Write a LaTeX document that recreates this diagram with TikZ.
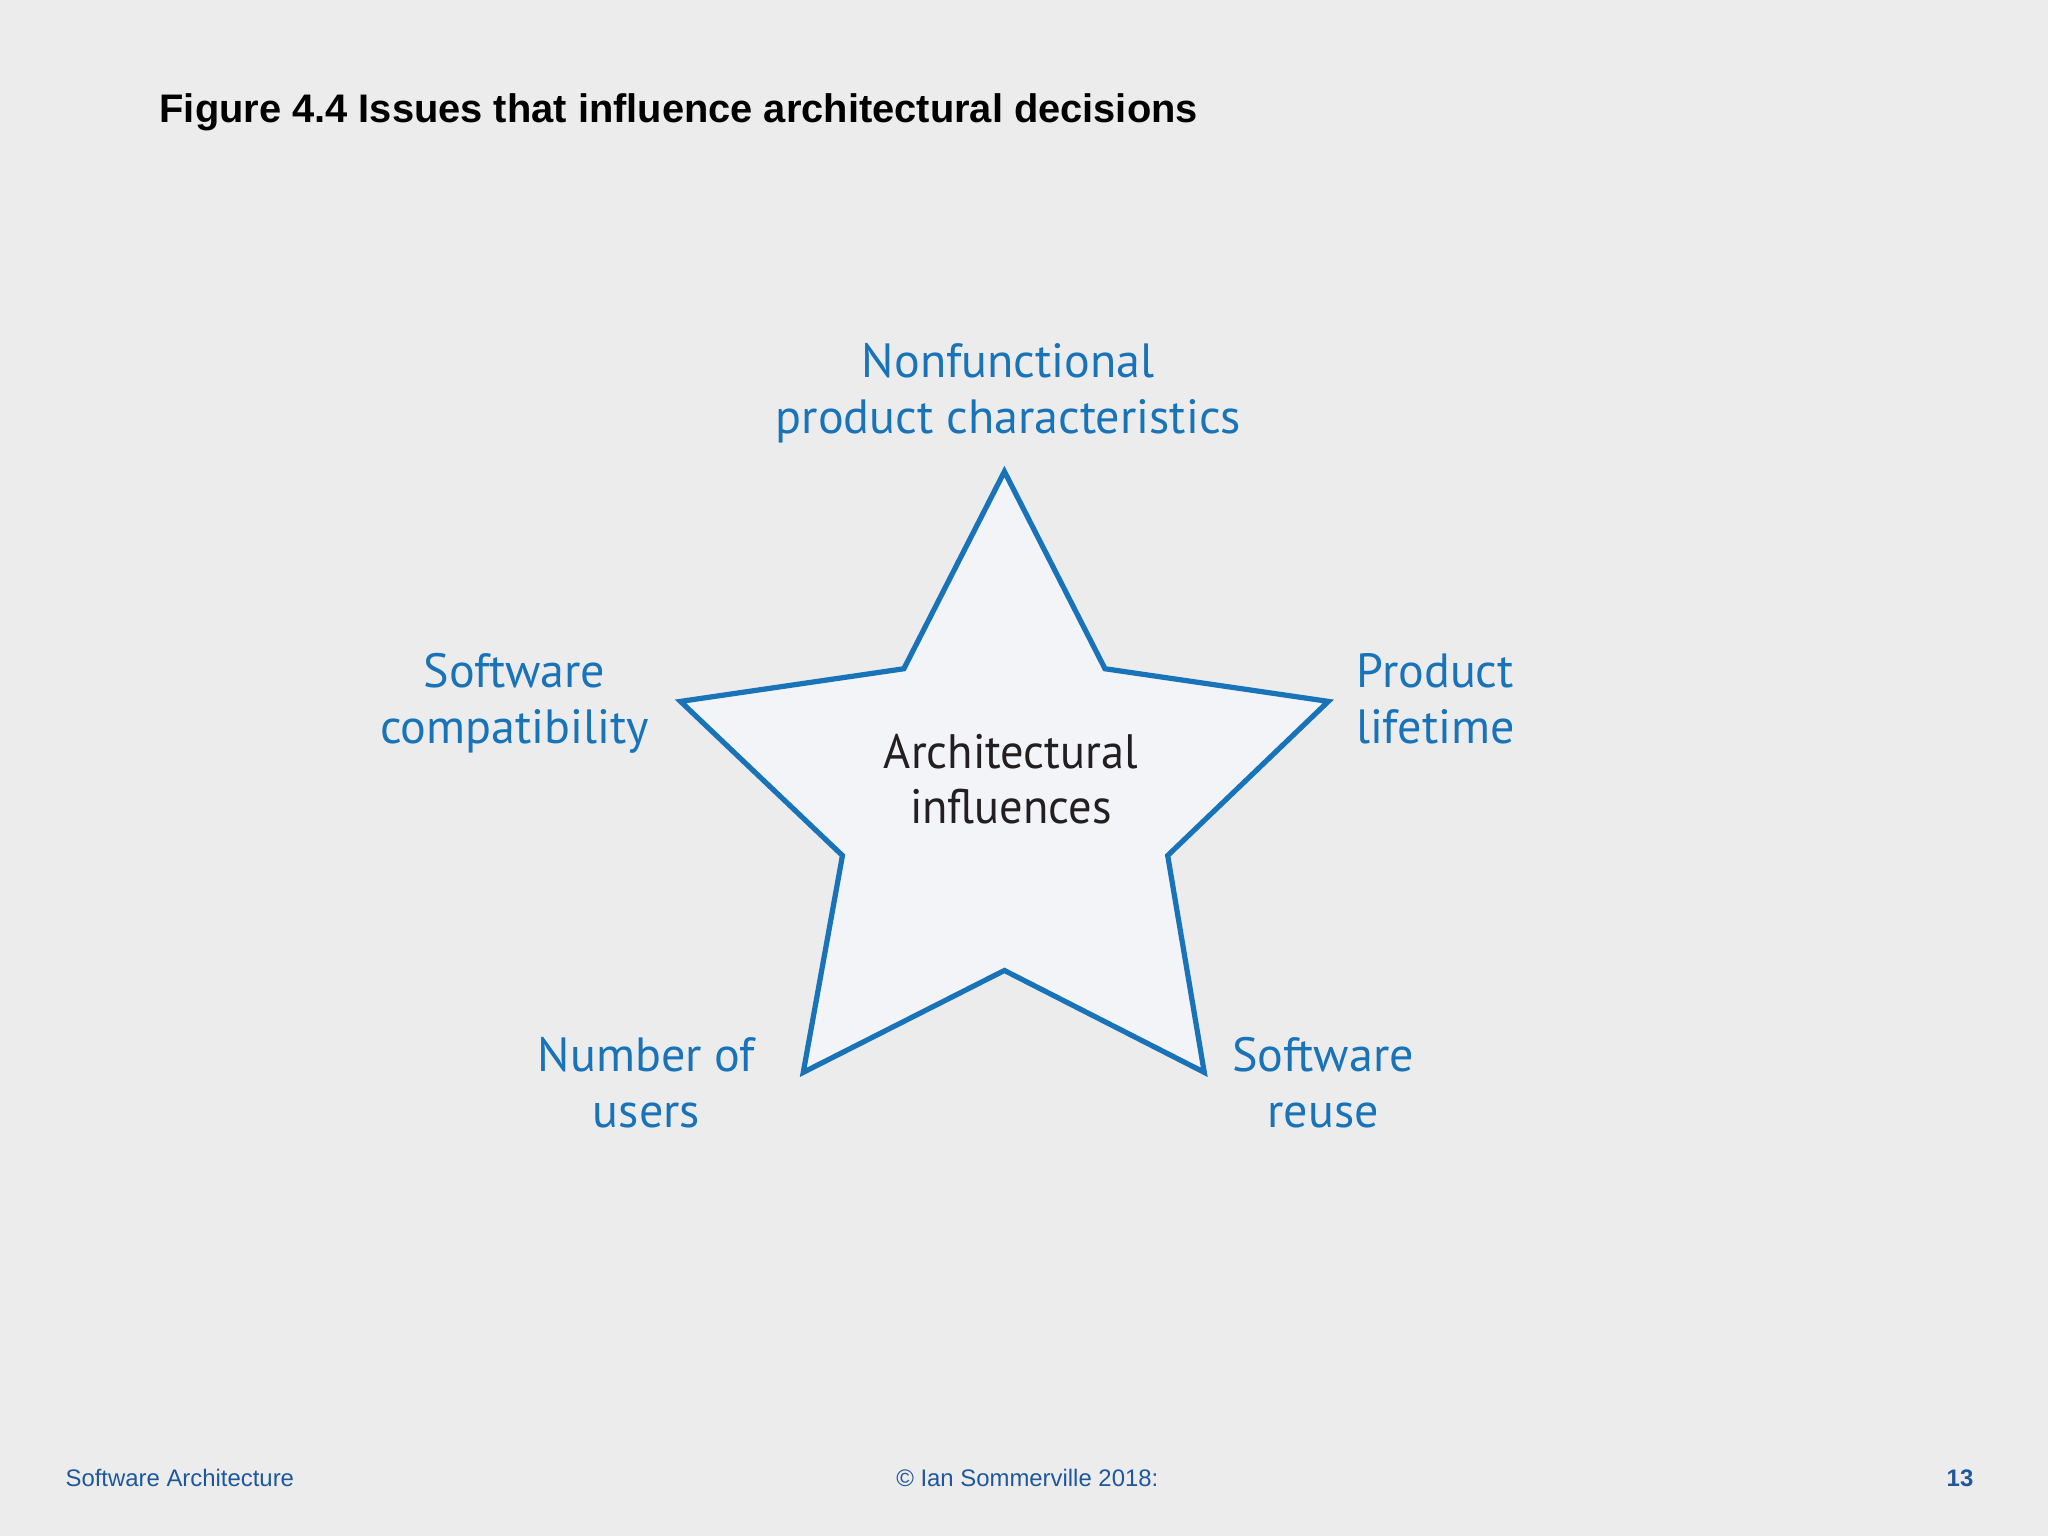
\documentclass[tikz,border=0pt]{standalone}
\usepackage{fontspec}
\setmainfont{Liberation Sans}
\newfontfamily\lblfont{PT Sans}
\newfontfamily\ctrfont[FakeStretch=0.96]{PT Sans}
\definecolor{bgc}{RGB}{236,236,237}
\definecolor{starblue}{RGB}{24,115,185}
\definecolor{starfill}{RGB}{243,244,248}
\definecolor{lblblue}{RGB}{24,115,185}
\definecolor{footblue}{RGB}{30,88,155}
\definecolor{centerblack}{RGB}{35,31,32}
\begin{document}
\begin{tikzpicture}[x=1pt,y=-1pt,
  lbl/.style={inner sep=0pt, align=center, text=lblblue, font={\lblfont\fontsize{36.8}{43}\selectfont}},
  ctr/.style={inner sep=0pt, align=center, text=centerblack, font={\ctrfont\fontsize{37}{42}\selectfont}},
  foot/.style={inner sep=0pt, anchor=base west, text=footblue, font={\fontsize{18.3}{22}\selectfont}}]
\fill[bgc] (0,0) rectangle (1568,1176);
\useasboundingbox (0,0) rectangle (1568,1176);
% title
\node[inner sep=0pt, anchor=base west, font={\bfseries\fontsize{30.5}{36}\selectfont}] (title) at (122,94) {Figure 4.4 Issues that influence architectural decisions};
% star
\coordinate (p1) at (769,361);
\coordinate (p2) at (846,512);
\coordinate (p3) at (1017,537);
\coordinate (p4) at (894,655);
\coordinate (p5) at (922,821);
\coordinate (p6) at (769,743);
\coordinate (p7) at (615,821);
\coordinate (p8) at (645,655);
\coordinate (p9) at (521,537);
\coordinate (p10) at (692,512);
\draw[starblue, fill=starfill, line width=4pt, line join=miter] (p1) -- (p2) -- (p3) -- (p4) -- (p5) -- (p6) -- (p7) -- (p8) -- (p9) -- (p10) -- cycle;
% labels
\node[ctr] (center) at (774,601) {\strut Architectural\\influences\strut};
\node[lbl] (nonfunc) at (772,302) {\strut Nonfunctional\\product characteristics\strut};
\node[lbl] (compat) at (394,539) {\strut Software\\compatibility\strut};
\node[lbl] (lifetime) at (1099,539) {\strut Product\\lifetime\strut};
\node[lbl] (users) at (495,833) {\strut Number of\\users\strut};
\node[lbl] (reuse) at (1013,833) {\strut Software\\reuse\strut};
% footer
\node[foot] (footl) at (50,1138) {Software Architecture};
\node[foot] (footc) at (686,1138) {\textcopyright{} Ian Sommerville 2018:};
\node[foot, anchor=base east, font={\bfseries\fontsize{18.3}{22}\selectfont}] (footr) at (1511,1138) {13};
\end{tikzpicture}
\end{document}
